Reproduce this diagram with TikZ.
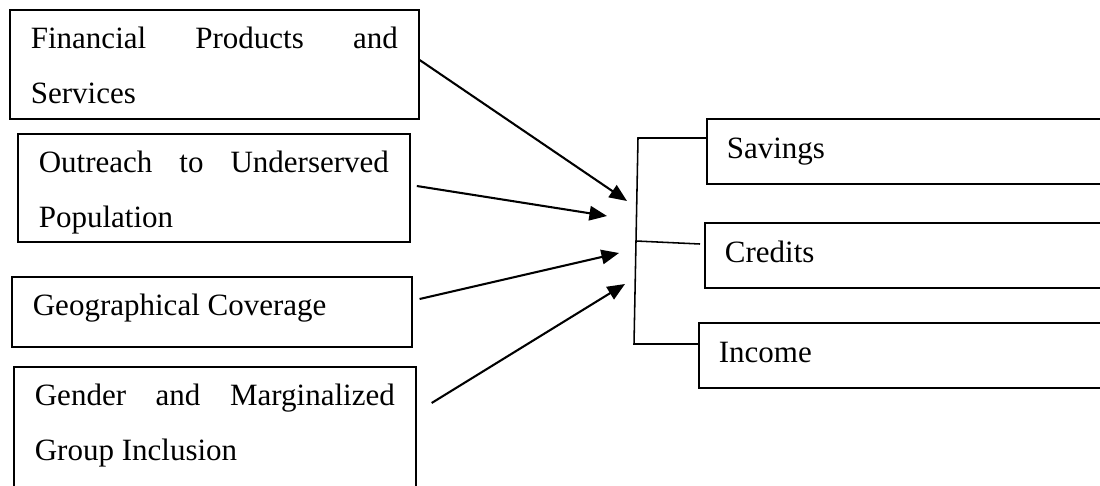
\documentclass[tikz,border=0pt]{standalone}
\usepackage{fontspec}
\setmainfont{Liberation Serif}
\usetikzlibrary{arrows.meta, calc, positioning}
\hyphenpenalty=10000
\exhyphenpenalty=10000

\begin{document}
\begin{tikzpicture}[x=0.387pt, y=-0.387pt,
    leftbox/.style={draw, line width=0.65pt, anchor=north west, align=justify,
      inner xsep=8.13pt, inner ysep=0pt, text height=15.1pt,
      font=\fontsize{12pt}{21.1pt}\selectfont},
    rightbox/.style={draw, line width=0.65pt, anchor=north west, align=left,
      inner xsep=7.74pt, inner ysep=0pt, text width=180pt, text height=15.3pt,
      text depth=10pt, font=\fontsize{12pt}{21.1pt}\selectfont},
    feed/.style={line width=0.8pt, -{Triangle[length=6.8pt,width=5.6pt]}},
    link/.style={line width=0.6pt}]
    \clip (0,0) rectangle (1100,485);
    % Define nodes
    \node[leftbox, text width=142pt, text depth=27.1pt] (fin) at (9,9) {Financial Products and Services};
    \node[leftbox, text width=135.5pt, text depth=26.7pt] (out) at (17,133) {Outreach to Underserved Population};
    \node[leftbox, text width=138.5pt, text depth=12pt] (geo) at (11,276) {Geographical Coverage};
    \node[leftbox, text width=139.3pt, text depth=50pt] (gen) at (13,366) {Gender and Marginalized Group Inclusion};
    \node[rightbox] (sav) at (706,118) {Savings};
    \node[rightbox] (cre) at (704,222) {Credits};
    \node[rightbox] (inc) at (698,322) {Income};
    \coordinate (t1) at (627,201);
    \coordinate (t2) at (607,216);
    \coordinate (t3) at (619,253);
    \coordinate (t4) at (625,284);
    \coordinate (bt) at (638,138);
    \coordinate (bb) at (634,344);
    % Draw edges
    \draw[feed] ($(fin.north east)+(0,51)$) -- (t1);
    \draw[feed] ($(out.north east)+(6,53)$) -- (t2);
    \draw[feed] ($(geo.north east)+(7,23)$) -- (t3);
    \draw[feed] ($(gen.north east)+(15,37)$) -- (t4);
    \draw[link] ($(sav.north west)+(0,20)$) -- (bt) -- (bb) -- ($(inc.north west)+(0,22)$);
    \draw[link] ($(bt)!0.5!(bb)$) -- ($(cre.north west)+(-4,22)$);

\end{tikzpicture}
\end{document}
